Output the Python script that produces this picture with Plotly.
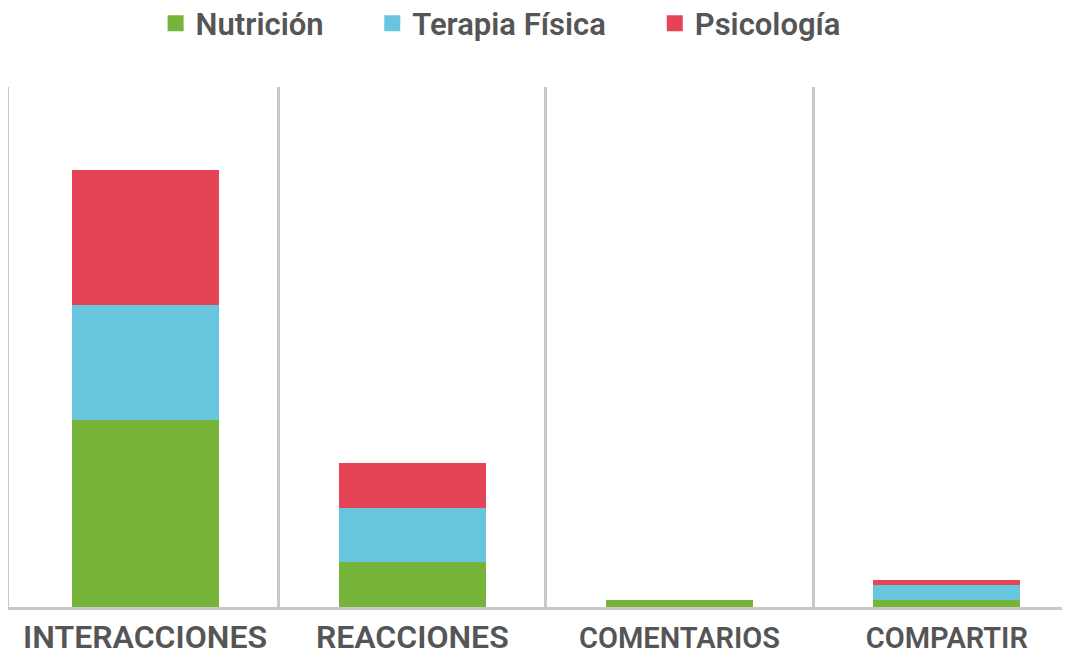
import plotly.graph_objects as go

categories = ["INTERACCIONES", "REACCIONES", "COMENTARIOS", "COMPARTIR"]
label_sizes = [32, 32, 29, 29]
nutricion = [187, 45, 7, 7]
terapia = [115, 54, 0, 15]
psicologia = [135, 45, 0, 5]

series = [
    ("Nutrición", nutricion, "#76b43a", "legend"),
    ("Terapia Física", terapia, "#67c6dd", "legend2"),
    ("Psicología", psicologia, "#e54356", "legend3"),
]

FONT = "Roboto, sans-serif"
TEXT = "#555555"
GRID = "#c8c8c8"

# page body has an 8px margin, so the figure is sized to the remaining window
W, H = 1062, 652

x = list(range(len(categories)))
fig = go.Figure()
for name, vals, color, leg in series:
    fig.add_trace(go.Bar(x=x, y=vals, name=name, width=0.55,
                         marker={"color": color, "line": {"width": 0}},
                         showlegend=False))
    # legend swatch only
    fig.add_trace(go.Scatter(x=[None], y=[None], mode="markers", name=name,
                             marker={"symbol": "square", "size": 16, "color": color},
                             legend=leg))

legend_x = [0.139, 0.343, 0.609]
legend_style = dict(orientation="h", xref="container", yref="container",
                    y=0.976, yanchor="middle",
                    font={"size": 31, "color": TEXT, "family": FONT, "weight": 600},
                    bgcolor="rgba(0,0,0,0)")

ticktext = [f"<span style='font-size:{s}px'>{c}</span>" for c, s in zip(categories, label_sizes)]

fig.update_layout(
    width=W, height=H,
    barmode="stack",
    plot_bgcolor="white", paper_bgcolor="white",
    margin={"l": 1, "r": 0, "t": 79, "b": 53},
    font={"family": FONT, "color": TEXT},
    legend={**legend_style, "x": legend_x[0]},
    legend2={**legend_style, "x": legend_x[1]},
    legend3={**legend_style, "x": legend_x[2]},
    xaxis={
        "range": [-0.509, 3.461],
        "tickvals": x,
        "ticktext": ticktext,
        "tickfont": {"size": 32, "color": TEXT, "family": FONT, "weight": 600},
        "ticks": "",
        "showline": True, "linecolor": GRID, "linewidth": 3,
        "showgrid": False, "zeroline": False,
        "minor": {"tickvals": [0.5, 1.5, 2.5], "showgrid": True,
                  "gridcolor": GRID, "gridwidth": 3, "ticks": ""},
    },
    yaxis={
        "range": [0, 520],
        "showline": True, "linecolor": GRID, "linewidth": 3,
        "showticklabels": False, "showgrid": False, "zeroline": False,
    },
)

fig.write_html("out.html")
